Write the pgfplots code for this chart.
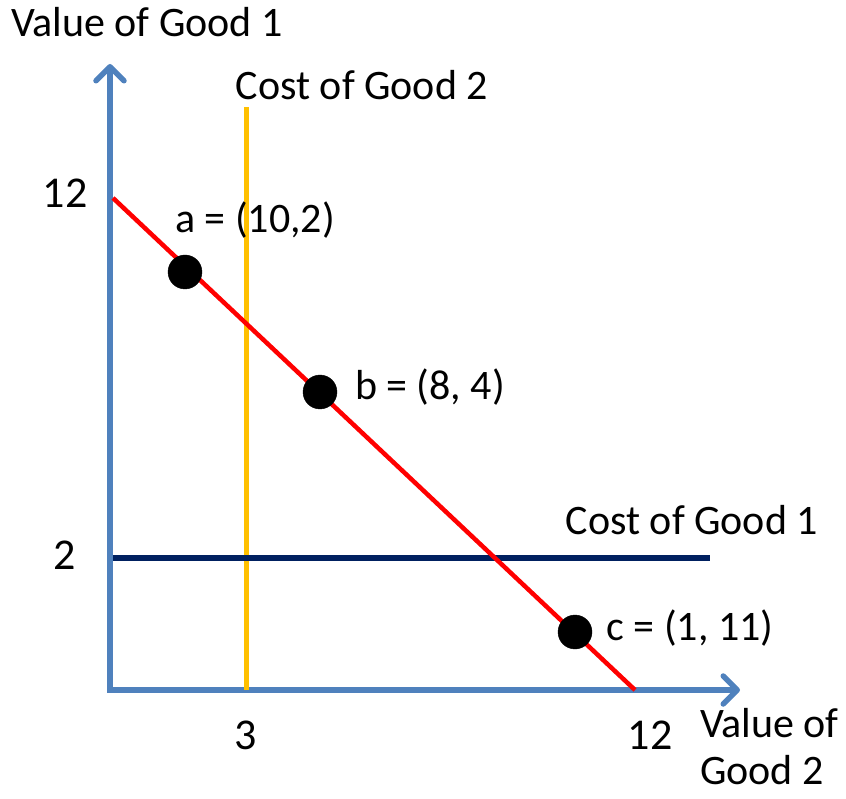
\documentclass[border=0pt]{standalone}
\usepackage{pgfplots}
\pgfplotsset{compat=1.18}
\usepackage{fontspec}
\setmainfont{Carlito}
\usetikzlibrary{arrows.meta}
\definecolor{axblue}{RGB}{79,129,189}
\definecolor{gold}{RGB}{255,192,0}
\definecolor{navy}{RGB}{0,32,96}
\begin{document}
\begin{tikzpicture}
\begin{axis}[
  scale only axis,
  width=630pt, height=626pt,
  xmin=0, xmax=630, ymin=0, ymax=626,
  axis lines=left,
  axis line style={axblue, line width=5.5pt, line cap=rect, -{Straight Barb[round, length=14pt, width=28pt, line width=5.5pt]}},
  clip=false,
  xtick={136,540}, xticklabels={3,12},
  ytick={135,497}, yticklabels={2,12},
  major tick length=0pt,
  /pgf/number format/assume math mode=true,
  tick label style={font=\fontsize{44}{50}\selectfont, anchor=center},
  xticklabel style={yshift=-45pt},
  yticklabel style={xshift=-45pt},
]
\draw[draw=none] (axis cs:-110,-108) rectangle (axis cs:736,690);
\addplot[gold, line width=5pt] coordinates {(136,0) (136,583)};
\addplot[navy, line width=6pt] coordinates {(3,132) (600,132)};
\addplot[red, line width=4.5pt] coordinates {(3,492) (525,0)};
\addplot[only marks, mark=*, mark size=17pt, black] coordinates {(75,418) (210,298) (465,58)};
\begin{scope}[every node/.style={font=\fontsize{42}{47}\selectfont, inner sep=0pt}]
\node at (axis cs:37,668) {Value of Good 1};
\node at (axis cs:252,605) {Cost of Good 2};
\node at (axis cs:582,170) {Cost of Good 1};
\node at (axis cs:145,470) {a = (10,2)};
\node at (axis cs:320,303) {b = (8, 4)};
\node at (axis cs:580,62) {c = (1, 11)};
\node[align=left, anchor=west] at (axis cs:590,-57) {Value of\\Good 2};
\end{scope}
\end{axis}
\end{tikzpicture}
\end{document}
